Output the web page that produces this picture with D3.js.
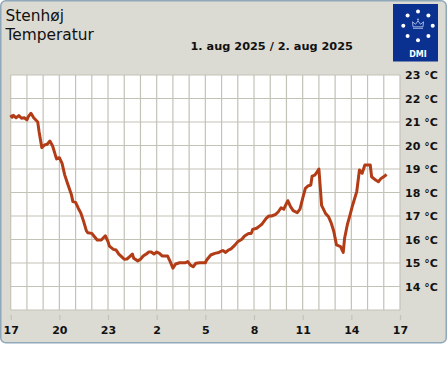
<!DOCTYPE html>
<html><head><meta charset="utf-8">
<script src="https://cdn.jsdelivr.net/npm/d3@7"></script>
<style>html,body{margin:0;padding:0;background:#fff;}svg{display:block;}</style>
</head><body>
<script>
const station = "Stenhøj";
const parameter = "Temperatur";
const dateLabel = "1. aug 2025 / 2. aug 2025";
const xTickLabels = ["17","20","23","2","5","8","11","14","17"];
const xTickHours = [0,3,6,9,12,15,18,21,24];
const yTicks = [14,15,16,17,18,19,20,21,22,23];
// minutes after 17:00 (1. aug)
const minutes = [0,5,10,20,30,40,50,60,65,75,85,100,105,115,125,135,145,155,165,170,180,190,200,210,225,230,240,250,260,270,280,285,300,310,320,335,350,360,365,380,390,400,410,420,430,440,450,455,470,480,490,505,510,520,530,540,550,560,580,590,600,610,625,645,655,665,675,685,700,720,725,740,755,770,780,785,795,805,815,830,840,855,865,880,890,895,910,920,930,945,955,965,980,990,1000,1010,1025,1035,1045,1060,1070,1080,1090,1100,1110,1115,1125,1130,1140,1150,1165,1175,1185,1195,1205,1220,1230,1235,1245,1255,1265,1280,1290,1300,1310,1330,1335,1350,1360,1370,1385,1390];
const temps = [21.30,21.20,21.28,21.18,21.27,21.16,21.18,21.09,21.23,21.37,21.18,21.00,20.59,19.91,20.02,20.05,20.19,19.98,19.60,19.43,19.48,19.24,18.74,18.39,17.89,17.61,17.58,17.33,17.11,16.76,16.37,16.29,16.26,16.12,15.98,15.98,16.16,15.91,15.72,15.58,15.55,15.38,15.27,15.16,15.17,15.27,15.38,15.20,15.09,15.16,15.30,15.41,15.47,15.47,15.38,15.47,15.41,15.30,15.30,15.06,14.78,14.96,15.01,15.01,15.06,14.91,14.84,14.99,15.01,15.01,15.13,15.34,15.41,15.45,15.51,15.53,15.45,15.55,15.60,15.77,15.91,16.01,16.15,16.26,16.26,16.43,16.48,16.57,16.66,16.90,17.00,17.00,17.07,17.18,17.35,17.29,17.65,17.40,17.23,17.14,17.29,17.75,18.18,18.28,18.32,18.70,18.74,18.82,19.00,17.45,17.10,16.98,16.72,16.35,15.77,15.70,15.45,16.05,16.62,17.04,17.47,18.04,18.96,18.82,19.17,19.17,18.67,18.53,18.46,18.60,18.71,18.77];

const W = 447, H = 370;
const svg = d3.select("body").append("svg").attr("width", W).attr("height", H);
const FONT = "'DejaVu Sans', sans-serif";

// panel
svg.append("rect").attr("x",0.75).attr("y",0.75).attr("width",445.5).attr("height",342)
  .attr("rx",5).attr("fill","#dcdbd3").attr("stroke","#8fa8ba").attr("stroke-width",1.5);

// titles
svg.append("text").attr("x",5.5).attr("y",20.5).attr("font-family",FONT).attr("font-size",15.4)
  .attr("fill","#111").text(station);
svg.append("text").attr("x",5.5).attr("y",40).attr("font-family",FONT).attr("font-size",15.4)
  .attr("fill","#111").text(parameter);
svg.append("text").attr("x",190.5).attr("y",50).attr("font-family",FONT).attr("font-size",11.3)
  .attr("font-weight","bold").attr("fill","#111").text(dateLabel);

// logo
const logo = svg.append("g");
logo.append("rect").attr("x",393).attr("y",4).attr("width",45).attr("height",57.5).attr("fill","#0a318f");
const cx = 418, cy = 25.8, rr = 14.7;
d3.range(8).forEach(i => {
  const a = -Math.PI/2 + i*Math.PI/4;
  logo.append("circle").attr("cx", cx + rr*Math.cos(a)).attr("cy", cy + rr*Math.sin(a)*0.98).attr("r",2).attr("fill","#fff");
});
logo.append("path").attr("d",`M${cx-5},${cy+1} L${cx-5.5},${cy-4} L${cx-2.5},${cy-1.5} L${cx},${cy-5} L${cx+2.5},${cy-1.5} L${cx+5.5},${cy-4} L${cx+5},${cy+1} Z M${cx-5},${cy+2.5} L${cx+5},${cy+2.5}`)
  .attr("fill","none").attr("stroke","#9fb4e0").attr("stroke-width",1);
logo.append("circle").attr("cx",cx).attr("cy",cy-6.3).attr("r",1).attr("fill","#9fb4e0");
logo.append("text").attr("x",cx).attr("y",56.5).attr("text-anchor","middle").attr("font-family",FONT)
  .attr("font-size",8).attr("font-weight","bold").attr("fill","#fff").text("DMI");

// plot
const L = 10.7, R = 400, T = 75, B = 310;
const x = d3.scaleLinear().domain([0,24]).range([L,R]);
const y = d3.scaleLinear().domain([13,23]).range([B,T]);
const gridColor = "#c3c2b7";
svg.append("rect").attr("x",L).attr("y",T).attr("width",R-L).attr("height",B-T).attr("fill","#fff");
svg.append("g").selectAll("line").data(d3.range(0,25)).join("line")
  .attr("x1",d=>x(d)).attr("x2",d=>x(d)).attr("y1",T).attr("y2",B)
  .attr("stroke",gridColor).attr("stroke-width",1.2);
svg.append("g").selectAll("line").data(d3.range(13,24)).join("line")
  .attr("x1",L).attr("x2",R).attr("y1",d=>y(d)).attr("y2",d=>y(d))
  .attr("stroke",gridColor).attr("stroke-width",1.2);

// x axis
const xAxis = d3.axisBottom(x).tickValues(xTickHours).tickFormat((d,i)=>xTickLabels[i]).tickSize(5).tickPadding(6);
const gx = svg.append("g").attr("transform",`translate(0,315)`).call(xAxis);
gx.select(".domain").remove();
gx.selectAll(".tick line").attr("stroke",gridColor).attr("stroke-width",1.2);
gx.selectAll(".tick text").attr("font-family",FONT).attr("font-size",11).attr("font-weight","bold").attr("fill","#111");

// y axis (right)
const yAxis = d3.axisRight(y).tickValues(yTicks).tickFormat(d=>d+" °C").tickSize(0).tickPadding(5);
const gy = svg.append("g").attr("transform",`translate(${R},0)`).call(yAxis);
gy.select(".domain").remove();
gy.selectAll(".tick text").attr("font-family",FONT).attr("font-size",11).attr("font-weight","bold").attr("fill","#111");

// line
const data = minutes.map((m,i)=>({h:m/60, t:temps[i]}));
svg.append("path").datum(data)
  .attr("d", d3.line().x(d=>x(d.h)).y(d=>y(d.t)))
  .attr("fill","none").attr("stroke","#b23c16").attr("stroke-width",3).attr("stroke-linejoin","round");
</script>
</body></html>
